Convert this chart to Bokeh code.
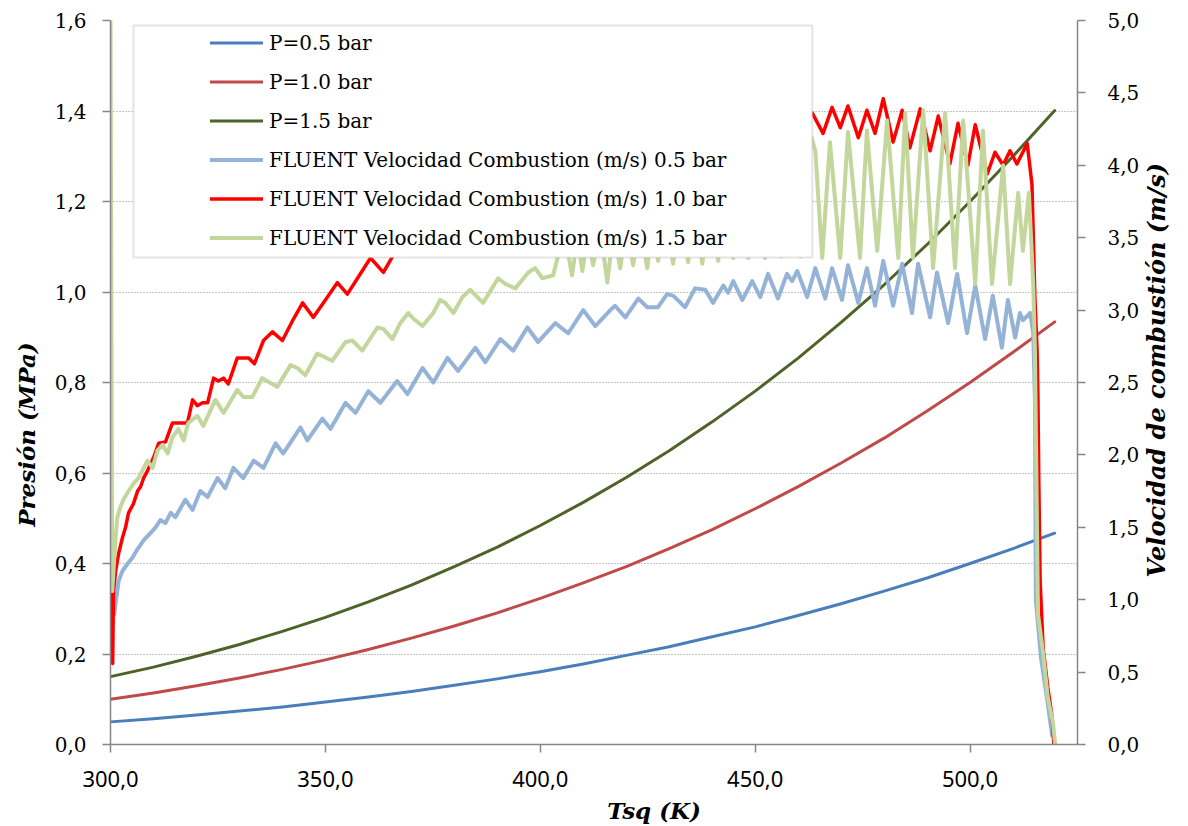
import math
from bokeh.plotting import figure
from bokeh.models import (Range1d, LinearAxis, FixedTicker, CustomJSTickFormatter,
                          Legend, LegendItem, BoxAnnotation, Label)
from bokeh.embed import file_html
from bokeh.resources import INLINE

# ---------------- data ----------------
x_ticks = [300, 350, 400, 450, 500]
p_ticks = [0.0, 0.2, 0.4, 0.6, 0.8, 1.0, 1.2, 1.4, 1.6]
v_ticks = [0.0, 0.5, 1.0, 1.5, 2.0, 2.5, 3.0, 3.5, 4.0, 4.5, 5.0]

# pressure curves (MPa) vs Tsq (K)
T_p = [300, 310, 320, 330, 340, 350, 360, 370, 380, 390, 400, 410, 420, 430,
       440, 450, 460, 470, 480, 490, 500, 510, 519.7]
p_05 = [0.050, 0.057, 0.065, 0.074, 0.083, 0.094, 0.105, 0.117, 0.131, 0.145, 0.161,
        0.178, 0.197, 0.216, 0.238, 0.260, 0.285, 0.311, 0.339, 0.368, 0.400, 0.433, 0.467]
p_10 = [0.100, 0.114, 0.130, 0.147, 0.166, 0.187, 0.210, 0.235, 0.262, 0.291, 0.323,
        0.357, 0.393, 0.433, 0.475, 0.521, 0.570, 0.622, 0.677, 0.737, 0.800, 0.867, 0.934]
p_15 = [0.150, 0.171, 0.195, 0.221, 0.250, 0.281, 0.315, 0.352, 0.393, 0.436, 0.484,
        0.535, 0.590, 0.649, 0.713, 0.781, 0.854, 0.933, 1.016, 1.105, 1.200, 1.300, 1.401]

# FLUENT combustion velocity (m/s), 0.5 bar
vb_T = [300.9, 301.2, 301.9, 302.8, 304.0, 305.1, 306.3, 307.7, 309.3, 310.5,
        311.6, 312.8, 314.0, 315.1, 317.4, 319.1, 320.9, 322.6, 324.9, 326.7,
        328.6, 330.9, 333.3, 335.6, 338.4, 340.2, 344.2, 345.8, 349.3, 351.2,
        354.7, 357.0, 360.0, 362.8, 366.7, 369.1, 372.6, 375.1, 378.4, 380.9,
        384.9, 387.2, 390.7, 393.7, 397.0, 399.5, 403.5, 406.5, 410.0, 412.8,
        416.3, 417.4, 419.8, 422.8, 424.9, 427.4, 429.5, 430.9, 433.7, 436.0,
        438.4, 440.2, 442.6, 443.7, 444.9, 447.0, 449.3, 451.2, 453.0, 455.3,
        457.4, 458.6, 459.8, 462.1, 464.0, 466.3, 467.9, 470.2, 471.6, 474.0,
        476.0, 477.9, 479.8, 482.1, 484.2, 486.5, 487.9, 490.7, 492.3, 494.9,
        497.0, 499.3, 501.2, 503.5, 505.3, 507.4, 508.8, 510.5, 511.6, 512.3,
        514.0, 514.7, 515.1, 515.3, 516.5, 518.0, 519.1]
vb_v = [0.90, 0.98, 1.13, 1.20, 1.25, 1.29, 1.35, 1.41, 1.46, 1.50,
        1.55, 1.53, 1.60, 1.57, 1.69, 1.62, 1.75, 1.71, 1.84, 1.77,
        1.91, 1.84, 1.96, 1.91, 2.08, 2.01, 2.19, 2.10, 2.25, 2.18,
        2.36, 2.29, 2.44, 2.36, 2.51, 2.42, 2.60, 2.50, 2.67, 2.58,
        2.74, 2.64, 2.80, 2.72, 2.88, 2.78, 2.91, 2.84, 3.00, 2.89,
        3.00, 3.03, 2.95, 3.08, 3.02, 3.02, 3.11, 3.10, 3.02, 3.15,
        3.14, 3.05, 3.17, 3.12, 3.20, 3.07, 3.20, 3.09, 3.25, 3.08,
        3.25, 3.20, 3.27, 3.09, 3.29, 3.08, 3.29, 3.07, 3.31, 3.05,
        3.29, 3.03, 3.34, 3.03, 3.32, 2.98, 3.32, 2.95, 3.26, 2.91,
        3.25, 2.84, 3.17, 2.80, 3.10, 2.74, 3.07, 2.81, 2.98, 2.93,
        2.98, 2.84, 2.38, 1.00, 0.60, 0.30, 0.06]

# FLUENT combustion velocity (m/s), 1.0 bar
vr_T = [300.3, 300.5, 300.7, 301.2, 301.9, 302.8, 303.5, 304.2, 305.3, 306.3,
        307.0, 307.7, 308.6, 310.0, 311.2, 312.8, 314.4, 315.1, 316.3, 317.9,
        319.1, 320.2, 321.4, 322.6, 324.0, 325.1, 326.3, 327.4, 329.5, 330.9,
        332.1, 333.5, 335.6, 337.7, 340.0, 342.6, 344.7, 347.2, 350.0, 352.8,
        355.1, 357.7, 360.5, 363.5, 365.8,
        368.5, 371.0, 374.0, 377.0, 380.0, 383.5, 387.0, 390.5, 394.0, 398.0,
        402.0, 406.0, 410.0, 414.0, 418.0, 422.0, 426.0, 430.0, 434.0, 438.0,
        442.0, 446.0, 450.0, 454.0, 458.0, 461.0,
        463.3, 465.8, 467.9, 469.8, 471.6, 474.0, 476.0, 477.9, 479.8, 482.1,
        484.2, 486.0, 488.4, 490.7, 492.6, 495.3, 497.2, 499.5, 501.2, 504.0,
        505.8, 507.7, 509.3, 510.9, 513.3, 514.4, 514.7, 515.1, 515.6, 515.8,
        516.0, 516.3, 517.0, 518.1, 519.1, 519.5]
vr_v = [1.04, 0.56, 1.06, 1.20, 1.32, 1.43, 1.50, 1.60, 1.66, 1.75,
        1.78, 1.84, 1.89, 1.98, 2.08, 2.09, 2.22, 2.22, 2.22, 2.22,
        2.38, 2.34, 2.36, 2.36, 2.53, 2.51, 2.53, 2.49, 2.67, 2.67,
        2.67, 2.63, 2.79, 2.85, 2.79, 2.94, 3.05, 2.95, 3.07, 3.19,
        3.11, 3.23, 3.36, 3.26, 3.38,
        3.50, 3.45, 3.62, 3.56, 3.72, 3.66, 3.82, 3.76, 3.92, 3.86,
        4.00, 3.94, 4.08, 4.02, 4.15, 4.08, 4.22, 4.15, 4.28, 4.20,
        4.33, 4.24, 4.38, 4.26, 4.40, 4.28,
        4.36, 4.22, 4.40, 4.26, 4.41, 4.19, 4.38, 4.22, 4.46, 4.16,
        4.38, 4.12, 4.39, 4.10, 4.34, 4.01, 4.29, 4.00, 4.28, 3.94,
        4.09, 4.00, 4.10, 4.01, 4.15, 3.87, 3.53, 3.07, 2.72, 2.38,
        1.82, 1.13, 0.67, 0.39, 0.19, 0.0]

# FLUENT combustion velocity (m/s), 1.5 bar
vg_T = [300.0, 300.4, 301.2, 301.6, 302.3, 303.0, 304.2, 305.3, 306.5, 307.4,
        308.6, 309.8, 310.9, 312.1, 313.3, 314.4, 315.8, 317.0, 318.1, 320.2,
        321.6, 324.4, 326.3, 329.5, 330.9, 333.0, 335.3, 338.8, 341.9, 343.5,
        345.3, 348.1, 351.6, 354.7, 356.3, 358.6, 362.1, 363.5, 365.6, 367.4,
        369.3, 370.5, 372.6, 375.1, 376.7, 377.9, 379.8, 381.9, 383.7, 386.7,
        390.2, 391.9, 394.2, 397.2, 398.8, 400.5, 403.0, 404.0, 405.8, 407.4,
        408.6, 409.8, 411.0, 412.3, 414.0, 415.6, 417.0, 418.6, 420.0, 421.6,
        423.2, 424.9, 426.2, 427.4, 429.2, 430.9, 432.6, 434.4, 436.0, 437.7,
        439.5, 441.4, 443.1, 444.9, 446.6, 448.4, 450.3, 452.3, 454.0, 456.0,
        458.2, 460.5, 463.0, 464.0, 465.6, 467.4, 469.8, 471.6, 474.4, 476.0,
        478.4, 480.7, 483.3, 484.9, 486.7, 489.1, 491.4, 494.2, 496.5, 498.4,
        501.2, 503.0, 505.1, 507.7, 509.3, 511.2, 512.3, 513.7, 514.7, 515.1,
        515.8, 517.0, 518.1, 519.3, 519.8]
vg_v = [5.00, 1.06, 1.43, 1.57, 1.64, 1.69, 1.75, 1.80, 1.84, 1.89,
        1.96, 1.91, 2.03, 2.07, 2.01, 2.12, 2.18, 2.10, 2.22, 2.27,
        2.20, 2.38, 2.29, 2.45, 2.40, 2.40, 2.53, 2.47, 2.62, 2.60,
        2.55, 2.70, 2.65, 2.78, 2.79, 2.72, 2.88, 2.87, 2.80, 2.91,
        2.98, 2.94, 2.89, 2.98, 3.07, 3.05, 2.98, 3.09, 3.14, 3.05,
        3.22, 3.18, 3.15, 3.26, 3.29, 3.22, 3.24, 3.36, 3.50, 3.24,
        3.50, 3.27, 3.52, 3.31, 3.55, 3.19, 3.55, 3.29, 3.58, 3.31,
        3.60, 3.29, 3.62, 3.34, 3.65, 3.32, 3.68, 3.33, 3.72, 3.32,
        3.76, 3.34, 3.80, 3.36, 3.85, 3.36, 3.90, 3.36, 3.95, 3.37,
        4.00, 3.37, 4.20, 4.10, 3.36, 4.16, 3.36, 4.23, 3.36, 4.24,
        3.41, 4.31, 3.36, 4.36, 3.36, 4.38, 3.29, 4.36, 3.29, 4.31,
        3.18, 4.24, 3.18, 4.00, 3.18, 3.81, 3.41, 3.81, 3.18, 2.72,
        0.90, 0.63, 0.32, 0.15, 0.0]

labels = ["P=0.5 bar", "P=1.0 bar", "P=1.5 bar",
          "FLUENT Velocidad Combustion (m/s) 0.5 bar",
          "FLUENT Velocidad Combustion (m/s) 1.0 bar",
          "FLUENT Velocidad Combustion (m/s) 1.5 bar"]
right_title = "Velocidad de combustión  (m/s)"

# ---------------- figure ----------------
NB = "\u00a0"
AXIS_GRAY = "#868686"
SERIF = "DejaVu Serif"

p = figure(width=1188, height=826, output_backend="svg", toolbar_location=None,
           x_range=Range1d(300, 525), y_range=Range1d(0, 1.6),
           min_border_left=110, min_border_right=110, min_border_top=20,
           min_border_bottom=82)
p.extra_y_ranges = {"vel": Range1d(0, 5)}
p.outline_line_color = None
p.background_fill_color = "white"
p.border_fill_color = "white"

fmt = CustomJSTickFormatter(code="return tick.toFixed(1).replace('.', ',');")

xa = p.xaxis[0]
xa.ticker = FixedTicker(ticks=x_ticks)
xa.formatter = fmt
xa.axis_label = NB * 15 + "Tsq (K)"

ya = p.yaxis[0]
ya.ticker = FixedTicker(ticks=p_ticks)
ya.formatter = fmt
ya.axis_label = "Presión (MPa)" + NB * 13

ra = LinearAxis(y_range_name="vel", ticker=FixedTicker(ticks=v_ticks), formatter=fmt)
props = LinearAxis.properties()
right_in_axis = "axis_label_orientation" in props and "axis_label_align" in props
if right_in_axis:
    # anchored at the bottom of the axis, reading upwards; padded to sit like the reference
    ra.axis_label = NB * 20 + right_title
    ra.axis_label_orientation = math.pi / 2
    ra.axis_label_align = "start"
    ra.axis_label_standoff = 14
else:
    p.add_layout(Label(x=1165, y=454, x_units="screen", y_units="screen",
                       text=right_title, angle=math.pi / 2,
                       text_align="center", text_baseline="middle",
                       text_font=SERIF, text_font_style="bold italic",
                       text_font_size="24px", text_color="#000000"))
p.add_layout(ra, "right")

for ax in (xa, ya, ra):
    ax.axis_line_color = AXIS_GRAY
    ax.axis_line_width = 1.5
    ax.major_tick_line_color = AXIS_GRAY
    ax.major_tick_line_width = 1.5
    ax.major_tick_out = 8
    ax.major_tick_in = 0
    ax.minor_tick_line_color = None
    ax.major_label_text_color = "#000000"
    ax.axis_label_text_font = SERIF
    ax.axis_label_text_font_style = "bold italic"
    ax.axis_label_text_font_size = "23px"
    ax.axis_label_text_color = "#000000"
ra.axis_label_text_font_size = "24px"

xa.major_label_text_font = "Noto Sans"
xa.major_label_text_font_size = "22px"
xa.major_label_standoff = 18
xa.axis_label_standoff = 7
for ax in (ya, ra):
    ax.major_label_text_font = SERIF
    ax.major_label_text_font_size = "20px"
ya.major_label_standoff = 16
ya.axis_label_standoff = 12
ra.major_label_standoff = 22

p.xgrid.visible = False
p.ygrid.ticker = FixedTicker(ticks=p_ticks)
p.ygrid.grid_line_color = "#8c8c8c"
p.ygrid.grid_line_dash = "1 2"
p.ygrid.grid_line_width = 1

kw = dict(line_join="round", line_cap="round")
r1 = p.line(T_p, p_05, line_color="#4a7ebb", line_width=3, **kw)
r2 = p.line(T_p, p_10, line_color="#be4b48", line_width=3, **kw)
r3 = p.line(T_p, p_15, line_color="#4f6228", line_width=3, **kw)
r4 = p.line(vb_T, vb_v, y_range_name="vel", line_color="#95b3d7", line_width=4, **kw)
r5 = p.line(vr_T, vr_v, y_range_name="vel", line_color="#ff0000", line_width=3.5, **kw)
r6 = p.line(vg_T, vg_v, y_range_name="vel", line_color="#c3d69b", line_width=4, **kw)

box = BoxAnnotation(left=305.35, right=463.3, top=1.589, bottom=1.076,
                    fill_color="white", fill_alpha=1.0,
                    line_color="#a6a6a6", line_width=2)
p.add_layout(box)

legend = Legend(items=[LegendItem(label=l, renderers=[r])
                       for l, r in zip(labels, [r1, r2, r3, r4, r5, r6])],
                location=(100, 487), padding=0, margin=0, spacing=0,
                glyph_width=53, glyph_height=39, label_height=39, label_standoff=6,
                border_line_color=None, background_fill_alpha=0.0,
                label_text_font=SERIF, label_text_font_size="20px",
                label_text_color="#000000")
p.add_layout(legend)

open("out.html", "w").write(file_html(p, INLINE))
